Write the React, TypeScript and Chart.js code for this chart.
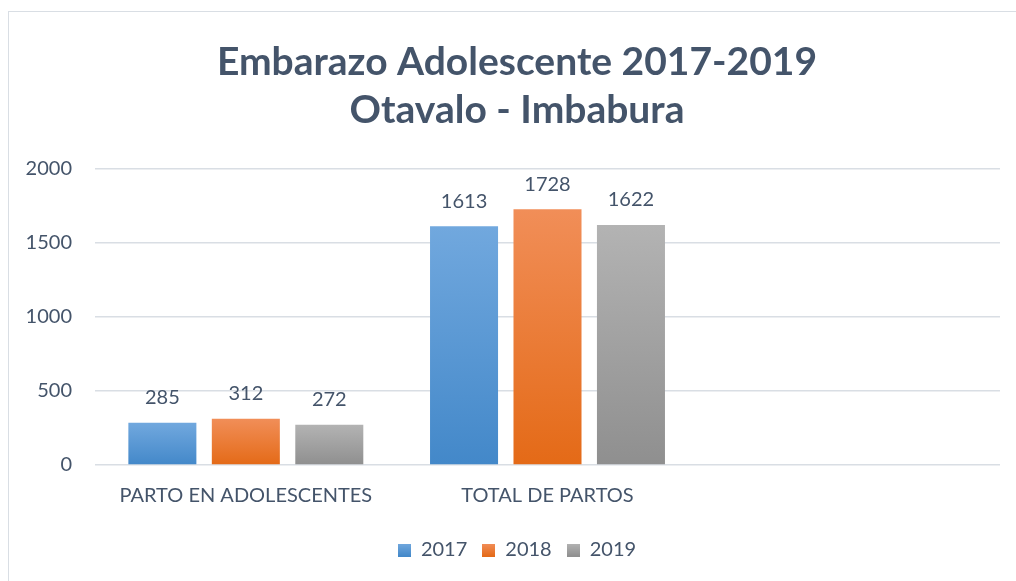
import React, { useEffect, useRef } from 'react';
import { Chart, registerables } from 'chart.js';

Chart.register(...registerables);

const categories = ['PARTO EN ADOLESCENTES', 'TOTAL DE PARTOS', ''];
const seriesLabels = ['2017', '2018', '2019'];
const values2017 = [285, 1613, null];
const values2018 = [312, 1728, null];
const values2019 = [272, 1622, null];
const yTickValues = [0, 500, 1000, 1500, 2000];
const titleLines = ['Embarazo Adolescente 2017-2019', 'Otavalo - Imbabura'];

const seriesColors: [string, string, string][] = [
  ['#71A8DE', '#4388C9', '#5A98D4'],
  ['#F18E58', '#E46A17', '#ED7D31'],
  ['#B3B3B3', '#8F8F8F', '#A5A5A5'],
];

const TEXT = '#44546A';
const FONT = 'Lato, "Open Sans", sans-serif';

const valueLabelPlugin = {
  id: 'valueLabels',
  afterDatasetsDraw(chart: any) {
    const { ctx } = chart;
    ctx.save();
    ctx.font = `20px ${FONT}`;
    ctx.fillStyle = TEXT;
    ctx.textAlign = 'center';
    ctx.textBaseline = 'middle';
    chart.data.datasets.forEach((ds: any, i: number) => {
      const meta = chart.getDatasetMeta(i);
      meta.data.forEach((bar: any, j: number) => {
        const v = ds.data[j];
        if (v == null) return;
        ctx.fillText(String(v), bar.x, bar.y - 25);
      });
    });
    ctx.restore();
  },
};

function makeBg(colors: [string, string, string]) {
  return (c: any) => {
    const chart = c.chart;
    if (c.type !== 'data' || !chart.chartArea || c.raw == null) return colors[2];
    const ys = chart.scales.y;
    const top = ys.getPixelForValue(c.raw);
    const bot = ys.getPixelForValue(0);
    if (!isFinite(top) || !isFinite(bot) || top === bot) return colors[2];
    const g = chart.ctx.createLinearGradient(0, top, 0, bot);
    g.addColorStop(0, colors[0]);
    g.addColorStop(1, colors[1]);
    return g;
  };
}

function makeLegendSwatch(colors: [string, string, string]) {
  const c = document.createElement('canvas');
  c.width = 13;
  c.height = 13;
  const x = c.getContext('2d')!;
  const g = x.createLinearGradient(0, 0, 0, 13);
  g.addColorStop(0, colors[0]);
  g.addColorStop(1, colors[1]);
  x.fillStyle = g;
  x.fillRect(0, 0, 13, 13);
  return c;
}

export default function App() {
  const ref = useRef<HTMLCanvasElement>(null);
  useEffect(() => {
    if (!ref.current) return;
    const seriesData = [values2017, values2018, values2019];
    const swatches = seriesColors.map(makeLegendSwatch);
    const chart = new Chart(ref.current, {
      type: 'bar',
      data: {
        labels: categories,
        datasets: seriesLabels.map((label, i) => ({
          label,
          data: seriesData[i],
          backgroundColor: makeBg(seriesColors[i]),
          categoryPercentage: 0.83,
          barPercentage: 0.815,
        })),
      },
      options: {
        animation: false,
        responsive: false,
        maintainAspectRatio: false,
        layout: { padding: { top: 38, left: 0, right: 16, bottom: 11 } },
        plugins: {
          title: {
            display: true,
            text: titleLines,
            color: TEXT,
            font: { family: FONT, size: 39, weight: 'bold', lineHeight: 1.23 },
            padding: { top: 0, bottom: 35 },
          },
          legend: {
            position: 'bottom',
            labels: {
              color: TEXT,
              font: { family: FONT, size: 20 },
              boxWidth: 13,
              boxHeight: 13,
              padding: 15,
              usePointStyle: true,
              generateLabels: (ch: any) => {
                const items = (Chart as any).defaults.plugins.legend.labels.generateLabels(ch);
                items.forEach((it: any, i: number) => {
                  it.pointStyle = swatches[i];
                });
                return items;
              },
            },
          },
          tooltip: { enabled: false },
        },
        scales: {
          x: {
            grid: { display: false },
            border: { display: false },
            ticks: { color: TEXT, font: { family: FONT, size: 20 }, padding: 11, maxRotation: 0 },
            afterFit: (s: any) => {
              s.height = 60;
            },
          },
          y: {
            min: 0,
            max: 2000,
            afterBuildTicks: (axis: any) => {
              axis.ticks = yTickValues.map((v) => ({ value: v }));
            },
            grid: { color: '#D9DEE4', lineWidth: 1.5, drawTicks: false },
            border: { display: false },
            ticks: {
              color: TEXT,
              font: { family: FONT, size: 20 },
              padding: 23,
              callback: (v: any) => String(v),
            },
            afterFit: (s: any) => {
              s.width = 95;
            },
          },
          yRightSpacer: {
            position: 'right',
            display: true,
            min: 0,
            max: 1,
            grid: { display: false },
            border: { display: false },
            ticks: { display: false },
            afterFit: (s: any) => {
              s.width = 34;
            },
          },
        },
      },
      plugins: [valueLabelPlugin],
    } as any);
    return () => chart.destroy();
  }, []);

  return (
    <div style={{ position: 'absolute', left: 0, top: 0, width: 1016, height: 581, overflow: 'hidden', background: '#fff' }}>
      <div style={{ position: 'absolute', left: 8, top: 11, width: 1200, height: 800, borderLeft: '1px solid #D9DEE4', borderTop: '1px solid #D9DEE4' }} />
      <canvas ref={ref} width={1050} height={581} style={{ position: 'absolute', left: 0, top: 0, width: 1050, height: 581 }} />
    </div>
  );
}
